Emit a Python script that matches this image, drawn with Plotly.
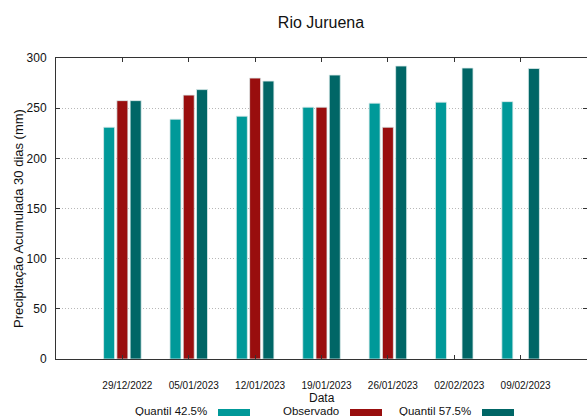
import plotly.graph_objects as go

OUTPUT_HTML = "out.html"

datas = ["29/12/2022", "05/01/2023", "12/01/2023", "19/01/2023",
         "26/01/2023", "02/02/2023", "09/02/2023"]
quantil_425 = [231, 239, 242, 251, 255, 256, 256.5]
observado = [257.5, 263, 280, 251, 231, None, None]
quantil_575 = [257.5, 268.5, 277, 283, 292, 290, 289.5]

series = [
    ("Quantil 42.5%", quantil_425, "#009999"),
    ("Observado", observado, "#990e0e"),
    ("Quantil 57.5%", quantil_575, "#006666"),
]

fig = go.Figure()
for nome, valores, cor in series:
    fig.add_trace(go.Bar(
        x=datas, y=valores, name=nome,
        marker=dict(color=cor, line=dict(color="rgba(220,235,235,0.8)", width=1)),
        showlegend=False,
    ))

# legenda no estilo gnuplot: texto a esquerda da amostra de cor
legend_text_end = [209, 341, 473]
for (nome, _, cor), xe in zip(series, legend_text_end):
    fig.add_annotation(
        text=nome, xref="paper", yref="paper",
        x=(xe - 56) / 531, y=(359 - 411) / 301,
        xanchor="right", yanchor="middle", showarrow=False,
        font=dict(family="Liberation Sans, Arial", size=11.5, color="#111"),
    )
    fig.add_shape(
        type="rect", xref="paper", yref="paper",
        x0=(xe + 9 - 56) / 531, x1=(xe + 41 - 56) / 531,
        y0=(359 - 409) / 301, y1=(359 - 422) / 301,
        fillcolor=cor, line=dict(width=0),
    )

fig.add_annotation(
    text="Data", xref="paper", yref="paper", x=0.5, y=(359 - 398) / 301,
    xanchor="center", yanchor="middle", showarrow=False,
    font=dict(family="Liberation Sans, Arial", size=12, color="#111"),
)
fig.add_annotation(
    text="Precipitação Acumulada 30 dias (mm)", xref="paper", yref="paper",
    x=-38 / 531, y=(359 - 219) / 301, textangle=-90,
    xanchor="center", yanchor="middle", showarrow=False,
    font=dict(family="Liberation Sans, Arial", size=13, color="#111"),
)

fig.update_layout(
    title=dict(text="Rio Juruena", x=(321) / 587, xanchor="center", y=1 - 22 / 416,
               yanchor="middle", font=dict(family="Liberation Sans, Arial", size=16, color="#111")),
    width=587, height=416,
    margin=dict(l=56, r=0, t=58, b=57),
    barmode="group", bargap=0.4, bargroupgap=0.17,
    plot_bgcolor="white", paper_bgcolor="white",
    xaxis=dict(
        type="category", range=[-1, 7],
        showline=True, linecolor="#333", linewidth=1, mirror="ticks",
        ticks="inside", ticklen=4, tickcolor="#333",
        showgrid=False, ticklabelstandoff=17, ticklabelshift=5,
        tickfont=dict(family="Liberation Sans, Arial", size=10, color="#111"),
    ),
    yaxis=dict(
        range=[0, 300], tickvals=[0, 50, 100, 150, 200, 250, 300],
        showline=True, linecolor="#333", linewidth=1, mirror="ticks",
        ticks="inside", ticklen=4, tickcolor="#333",
        showgrid=True, gridcolor="#b8b8b8", griddash="1px,2px", gridwidth=1,
        zeroline=False, ticklabelstandoff=6,
        tickfont=dict(family="Liberation Sans, Arial", size=12, color="#111"),
    ),
)

fig.write_html(OUTPUT_HTML, config={"displayModeBar": False},
               post_script="document.body.style.margin='0';")
